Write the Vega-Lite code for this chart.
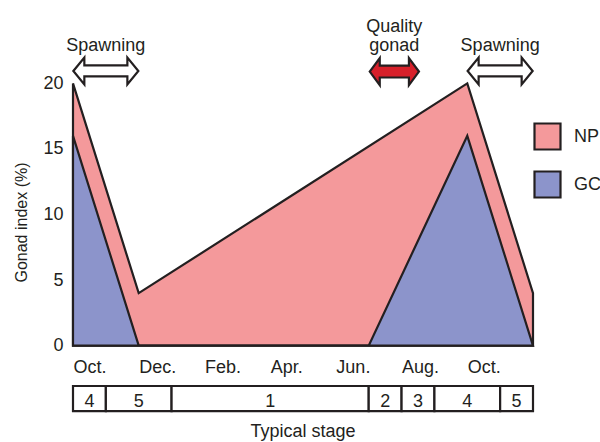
{
  "$schema": "https://vega.github.io/schema/vega-lite/v6.json",
  "width": 460,
  "height": 430,
  "autosize": {"type": "none"},
  "padding": {"left": 73, "top": 10, "right": 67, "bottom": 2},
  "background": "white",
  "config": {
    "view": {"stroke": null},
    "font": "Liberation Sans",
    "text": {"font": "Liberation Sans", "fontSize": 18, "color": "#231f20"},
    "axis": {"labelFont": "Liberation Sans", "titleFont": "Liberation Sans", "labelColor": "#231f20", "titleColor": "#231f20"},
    "legend": {"labelFont": "Liberation Sans", "labelColor": "#231f20"}
  },
  "datasets": {
    "gonad": [
      {"month": 0, "index": 20, "series": "NP"},
      {"month": 2, "index": 4, "series": "NP"},
      {"month": 12, "index": 20, "series": "NP"},
      {"month": 14, "index": 4, "series": "NP"},
      {"month": 0, "index": 16, "series": "GC"},
      {"month": 2, "index": 0, "series": "GC"},
      {"month": 9, "index": 0, "series": "GC"},
      {"month": 12, "index": 16, "series": "GC"},
      {"month": 14, "index": 0, "series": "GC"}
    ],
    "stages": [
      {"start": 0, "end": 1, "mid": 0.5, "stage": "4"},
      {"start": 1, "end": 3, "mid": 2, "stage": "5"},
      {"start": 3, "end": 9, "mid": 6, "stage": "1"},
      {"start": 9, "end": 10, "mid": 9.5, "stage": "2"},
      {"start": 10, "end": 11, "mid": 10.5, "stage": "3"},
      {"start": 11, "end": 13, "mid": 12, "stage": "4"},
      {"start": 13, "end": 14, "mid": 13.5, "stage": "5"}
    ],
    "events": [
      {"month": 1, "event": "Spawning", "kind": "spawning"},
      {"month": 9.78, "event": "Quality\ngonad", "kind": "quality"},
      {"month": 13, "event": "Spawning", "kind": "spawning"}
    ],
    "caption": [
      {"month": 7, "text": "Typical stage"}
    ]
  },
  "layer": [
    {
      "data": {"name": "gonad"},
      "transform": [{"filter": "datum.series === 'NP'"}],
      "mark": {"type": "area", "stroke": "#231f20", "strokeWidth": 2.2, "strokeJoin": "miter", "opacity": 1, "fillOpacity": 1},
      "encoding": {
        "x": {
          "field": "month", "type": "quantitative",
          "scale": {"domain": [0, 14], "nice": false, "zero": false},
          "axis": {
            "values": [0, 2, 4, 6, 8, 10, 12],
            "labelExpr": "['Oct.','Dec.','Feb.','Apr.','Jun.','Aug.','Oct.'][round(datum.value/2)]",
            "labelAlign": "left",
            "labelBaseline": "alphabetic",
            "labelPadding": 27,
            "labelFontSize": 18,
            "labelFlush": false,
            "labelOverlap": false,
            "offset": -94.4,
            "ticks": false,
            "domain": false,
            "grid": false,
            "title": null
          }
        },
        "y": {
          "field": "index", "type": "quantitative", "stack": null,
          "scale": {"domain": [-7.2, 25.6], "nice": false, "zero": false},
          "axis": {
            "values": [0, 5, 10, 15, 20],
            "labelFontSize": 18,
            "labelPadding": 10,
            "ticks": false,
            "domain": false,
            "grid": false,
            "title": "Gonad index (%)",
            "titleFontSize": 16,
            "titleFontWeight": "normal",
            "titleX": -44,
            "titleY": 212,
            "titleAngle": -90,
            "titleAlign": "center",
            "titleBaseline": "bottom"
          }
        },
        "color": {
          "field": "series", "type": "nominal",
          "scale": {"domain": ["NP", "GC"], "range": ["#f4999b", "#8c94cb"]},
          "legend": {
            "title": null,
            "orient": "none",
            "legendX": 460,
            "legendY": 112,
            "padding": 0,
            "symbolType": "square",
            "symbolSize": 676,
            "symbolStrokeColor": "#231f20",
            "symbolStrokeWidth": 2.2,
            "symbolOpacity": 1,
            "labelFontSize": 18,
            "labelOffset": 12,
            "rowPadding": 13
          }
        }
      }
    },
    {
      "data": {"name": "gonad"},
      "transform": [{"filter": "datum.series === 'GC'"}],
      "mark": {"type": "area", "stroke": "#231f20", "strokeWidth": 2.2, "strokeJoin": "miter", "opacity": 1, "fillOpacity": 1},
      "encoding": {
        "x": {"field": "month", "type": "quantitative"},
        "y": {"field": "index", "type": "quantitative", "stack": null},
        "color": {"field": "series", "type": "nominal"}
      }
    },
    {
      "data": {"name": "stages"},
      "mark": {"type": "rect", "fill": "white", "stroke": "#231f20", "strokeWidth": 2.2},
      "encoding": {
        "x": {"field": "start", "type": "quantitative"},
        "x2": {"field": "end"},
        "y": {"datum": -3.08},
        "y2": {"datum": -4.99}
      }
    },
    {
      "data": {"name": "stages"},
      "mark": {"type": "text", "align": "center", "baseline": "alphabetic", "fontSize": 18},
      "encoding": {
        "x": {"field": "mid", "type": "quantitative"},
        "y": {"datum": -4.66},
        "text": {"field": "stage"}
      }
    },
    {
      "data": {"name": "caption"},
      "mark": {"type": "text", "align": "center", "baseline": "alphabetic", "fontSize": 18},
      "encoding": {
        "x": {"field": "month", "type": "quantitative"},
        "y": {"datum": -6.95},
        "text": {"field": "text"}
      }
    },
    {
      "data": {"name": "events"},
      "transform": [{"filter": "datum.kind === 'spawning'"}],
      "mark": {
        "type": "point", "filled": true, "fill": "white", "stroke": "#231f20", "strokeWidth": 2.2, "strokeJoin": "miter", "opacity": 1,
        "size": 4225,
        "shape": "M -1 0 L -0.662 -0.415 L -0.662 -0.169 L 0.662 -0.169 L 0.662 -0.415 L 1 0 L 0.662 0.415 L 0.662 0.169 L -0.662 0.169 L -0.662 0.415 Z"
      },
      "encoding": {
        "x": {"field": "month", "type": "quantitative"},
        "y": {"datum": 20.95}
      }
    },
    {
      "data": {"name": "events"},
      "transform": [{"filter": "datum.kind === 'quality'"}],
      "mark": {
        "type": "point", "filled": true, "fill": "#d7202a", "stroke": "#231f20", "strokeWidth": 2.2, "strokeJoin": "miter", "opacity": 1,
        "size": 2421,
        "shape": "M -1 0 L -0.593 -0.549 L -0.593 -0.24 L 0.593 -0.24 L 0.593 -0.549 L 1 0 L 0.593 0.549 L 0.593 0.24 L -0.593 0.24 L -0.593 0.549 Z"
      },
      "encoding": {
        "x": {"field": "month", "type": "quantitative"},
        "y": {"datum": 20.9}
      }
    },
    {
      "data": {"name": "events"},
      "transform": [{"filter": "datum.kind === 'spawning'"}],
      "mark": {"type": "text", "align": "center", "baseline": "alphabetic", "fontSize": 18},
      "encoding": {
        "x": {"field": "month", "type": "quantitative"},
        "y": {"datum": 22.49},
        "text": {"field": "event"}
      }
    },
    {
      "data": {"name": "events"},
      "transform": [{"filter": "datum.kind === 'quality'"}],
      "mark": {"type": "text", "align": "center", "baseline": "alphabetic", "fontSize": 18, "lineBreak": "\n", "lineHeight": 19.5},
      "encoding": {
        "x": {"field": "month", "type": "quantitative"},
        "y": {"datum": 23.94},
        "text": {"field": "event"}
      }
    }
  ]
}
